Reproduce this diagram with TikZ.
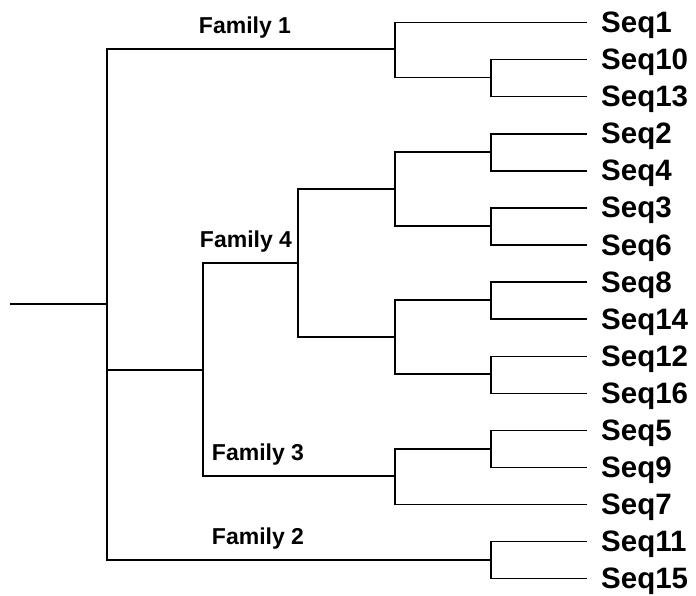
\documentclass[tikz,border=0pt]{standalone}
\usepackage{fontspec}
\setmainfont{Liberation Sans}
\usetikzlibrary{positioning}
\tikzset{
  branch/.style={line width=1.3pt,black},
  seq/.style={anchor=base west,inner sep=0pt,xshift=14pt,yshift=-10pt,
    font=\bfseries\fontsize{29.5}{32}\selectfont},
  fam/.style={anchor=base,inner sep=0pt,
    font=\bfseries\fontsize{23}{26}\selectfont}
}

\begin{document}
\begin{tikzpicture}[x=1pt,y=-1pt]
      \useasboundingbox (0,0) rectangle (696,595);
      % leaves
      \foreach \name [count=\i from 0] in {1,10,13,2,4,3,6,8,14,12,16,5,9,7,11,15} {
        \coordinate (l\name) at (587,22.7+37.05*\i);
        \node[seq] (s\name) at (l\name) {Seq\name};
      }
      % inner nodes
      \coordinate (stem) at (10,304);
      \coordinate (root) at (107,304);
      \coordinate (f1) at (395,49);
      \coordinate (c10) at (491,77.5);
      \coordinate (inner) at (203,370);
      \coordinate (f4) at (298,263);
      \coordinate (f4a) at (395,189);
      \coordinate (c24) at (491,152);
      \coordinate (c36) at (491,226);
      \coordinate (f4b) at (395,337);
      \coordinate (c814) at (491,300);
      \coordinate (c1216) at (491,374);
      \coordinate (f3) at (395,476);
      \coordinate (c59) at (491,449);
      \coordinate (f2) at (491,560);
      % branches
      \draw[branch] (stem) -- (root);
      \foreach \p/\c in {root/f1,root/inner,root/f2,
          f1/l1,f1/c10,c10/l10,c10/l13,
          inner/f4,inner/f3,f4/f4a,f4/f4b,
          f4a/c24,f4a/c36,c24/l2,c24/l4,c36/l3,c36/l6,
          f4b/c814,f4b/c1216,c814/l8,c814/l14,c1216/l12,c1216/l16,
          f3/c59,f3/l7,c59/l5,c59/l9,f2/l11,f2/l15}
        \draw[branch] (\p) |- (\c);
      % family labels
      \node[fam] (fam1) at (245,33.3) {Family 1};
      \node[fam] (fam4) at (246,247) {Family 4};
      \node[fam] (fam3) at (258,460.7) {Family 3};
      \node[fam] (fam2) at (258,544) {Family 2};
    \end{tikzpicture}
\end{document}
